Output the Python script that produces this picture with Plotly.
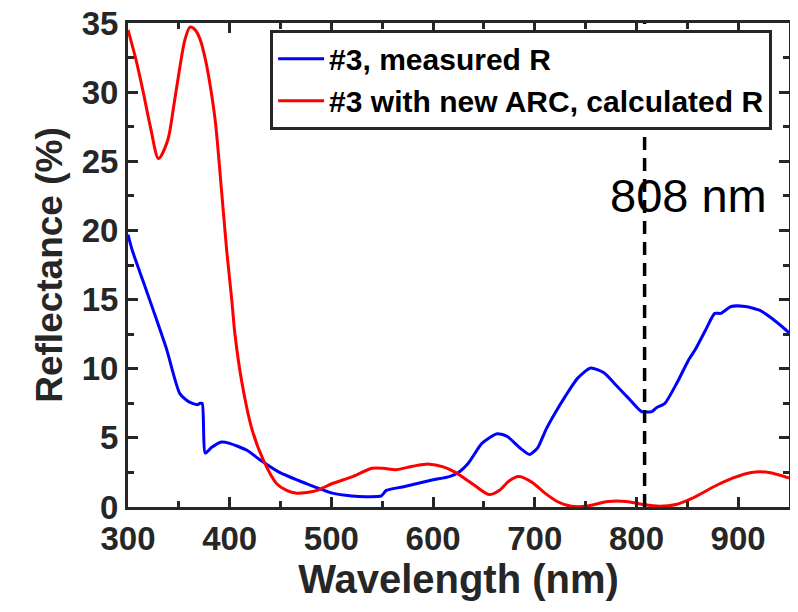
import plotly.graph_objects as go

# Measured reflectance (#3)
wl_meas = [300, 304, 315, 325, 338, 351, 360, 368, 371, 373, 376, 382, 392, 400, 417, 430, 449, 475,
           501, 520, 534, 549, 554, 570, 599, 616, 625, 635, 648, 663, 673, 685, 695, 703, 711, 720,
           730, 742, 755, 768, 780, 793, 805, 815, 820, 828, 840, 851, 858, 868, 877, 883, 893, 907,
           922, 932, 947, 950]
r_meas = [19.7, 18.6, 16.3, 14.2, 11.4, 8.2, 7.6, 7.4, 7.5, 7.5, 3.9, 4.3, 4.7, 4.6, 4.1, 3.4, 2.5, 1.7,
          1.0, 0.8, 0.75, 0.8, 1.2, 1.45, 1.95, 2.2, 2.5, 3.2, 4.6, 5.3, 5.1, 4.3, 3.8, 4.3, 5.6, 6.8,
          8.0, 9.3, 10.05, 9.7, 8.8, 7.8, 6.9, 6.9, 7.2, 7.5, 9.0, 10.6, 11.4, 12.8, 14.0, 14.0, 14.5, 14.5,
          14.2, 13.7, 12.8, 12.6]

# Calculated reflectance (#3 with new ARC)
wl_calc = [300, 308, 315, 322, 330, 339, 345, 351, 356, 361, 366, 371, 376, 381, 386, 390, 397, 402, 405, 412,
           422, 433, 446, 456, 466, 476, 486, 501, 521, 540, 551, 564, 580, 596, 610, 622, 640, 655, 665,
           675, 684, 697, 710, 722, 736, 750, 772, 790, 805, 822, 840, 854, 877, 895, 913, 930, 950]
r_calc = [34.5, 32.3, 30.0, 27.5, 25.2, 26.5, 29.0, 31.8, 33.8, 34.7, 34.5, 33.8, 32.4, 30.4, 27.8, 24.6, 18.6,
          15.0, 12.6, 9.0, 5.6, 3.4, 1.7, 1.2, 1.0, 1.05, 1.2, 1.7, 2.2, 2.8, 2.8, 2.7, 2.95, 3.1, 2.9,
          2.5, 1.6, 0.9, 1.2, 1.9, 2.2, 1.8, 1.0, 0.4, 0.05, 0.05, 0.4, 0.4, 0.2, 0.05, 0.2, 0.6, 1.5,
          2.1, 2.5, 2.5, 2.1]

marker_wl = 808
marker_label = "808 nm"
x_tick_step = 100
y_tick_step = 5

FONT = "Liberation Sans, Arial, Helvetica, sans-serif"
AX = "#262626"

fig = go.Figure()
fig.add_trace(go.Scatter(x=wl_meas, y=r_meas, mode="lines", name="#3, measured R",
                         line=dict(color="#0000FF", width=3, shape="spline", smoothing=0.6)))
fig.add_trace(go.Scatter(x=wl_calc, y=r_calc, mode="lines", name="#3 with new ARC, calculated R",
                         line=dict(color="#FF0000", width=3, shape="spline", smoothing=0.8)))

fig.add_shape(type="line", x0=marker_wl, x1=marker_wl, y0=0, y1=35, xref="x", yref="y",
              line=dict(color="black", width=3.5, dash="13px,8px"), layer="above")

fig.add_annotation(x=772, y=22.5, xref="x", yref="y", text=marker_label, showarrow=False,
                   xanchor="left", yanchor="middle",
                   font=dict(family=FONT, size=47, color="black"))

axis_common = dict(showline=True, linecolor=AX, linewidth=3, mirror="allticks",
                   ticks="inside", ticklen=10, tickwidth=3, tickcolor=AX,
                   showgrid=False, zeroline=False, automargin=False,
                   ticklabeloverflow="allow",
                   tickfont=dict(family=FONT, size=33, color=AX, weight="bold"))

fig.update_xaxes(range=[300, 950], tickmode="linear", tick0=0, dtick=x_tick_step, ticklabelstandoff=0,
                 minor=dict(ticks="inside", dtick=x_tick_step / 2, ticklen=6, tickwidth=3, tickcolor=AX),
                 title=dict(text="Wavelength (nm)", standoff=4,
                            font=dict(family=FONT, size=40, color=AX, weight="bold")),
                 **axis_common)
fig.update_yaxes(range=[0, 35], tickmode="linear", tick0=0, dtick=y_tick_step, ticklabelstandoff=0,
                 minor=dict(ticks="inside", dtick=y_tick_step / 2, ticklen=6, tickwidth=3, tickcolor=AX),
                 title=dict(text="Reflectance (%)", standoff=8,
                            font=dict(family=FONT, size=37, color=AX, weight="bold")),
                 **axis_common)

fig.update_layout(
    width=790, height=604,
    margin=dict(l=120, r=9, t=15, b=105),
    plot_bgcolor="white", paper_bgcolor="white",
    legend=dict(x=0.215, y=0.986, xanchor="left", yanchor="top",
                bgcolor="white", bordercolor=AX, borderwidth=3,
                font=dict(family=FONT, size=30, color="black", weight="bold"),
                itemwidth=46, tracegroupgap=0),
    showlegend=True,
)

fig.write_html("out.html")
